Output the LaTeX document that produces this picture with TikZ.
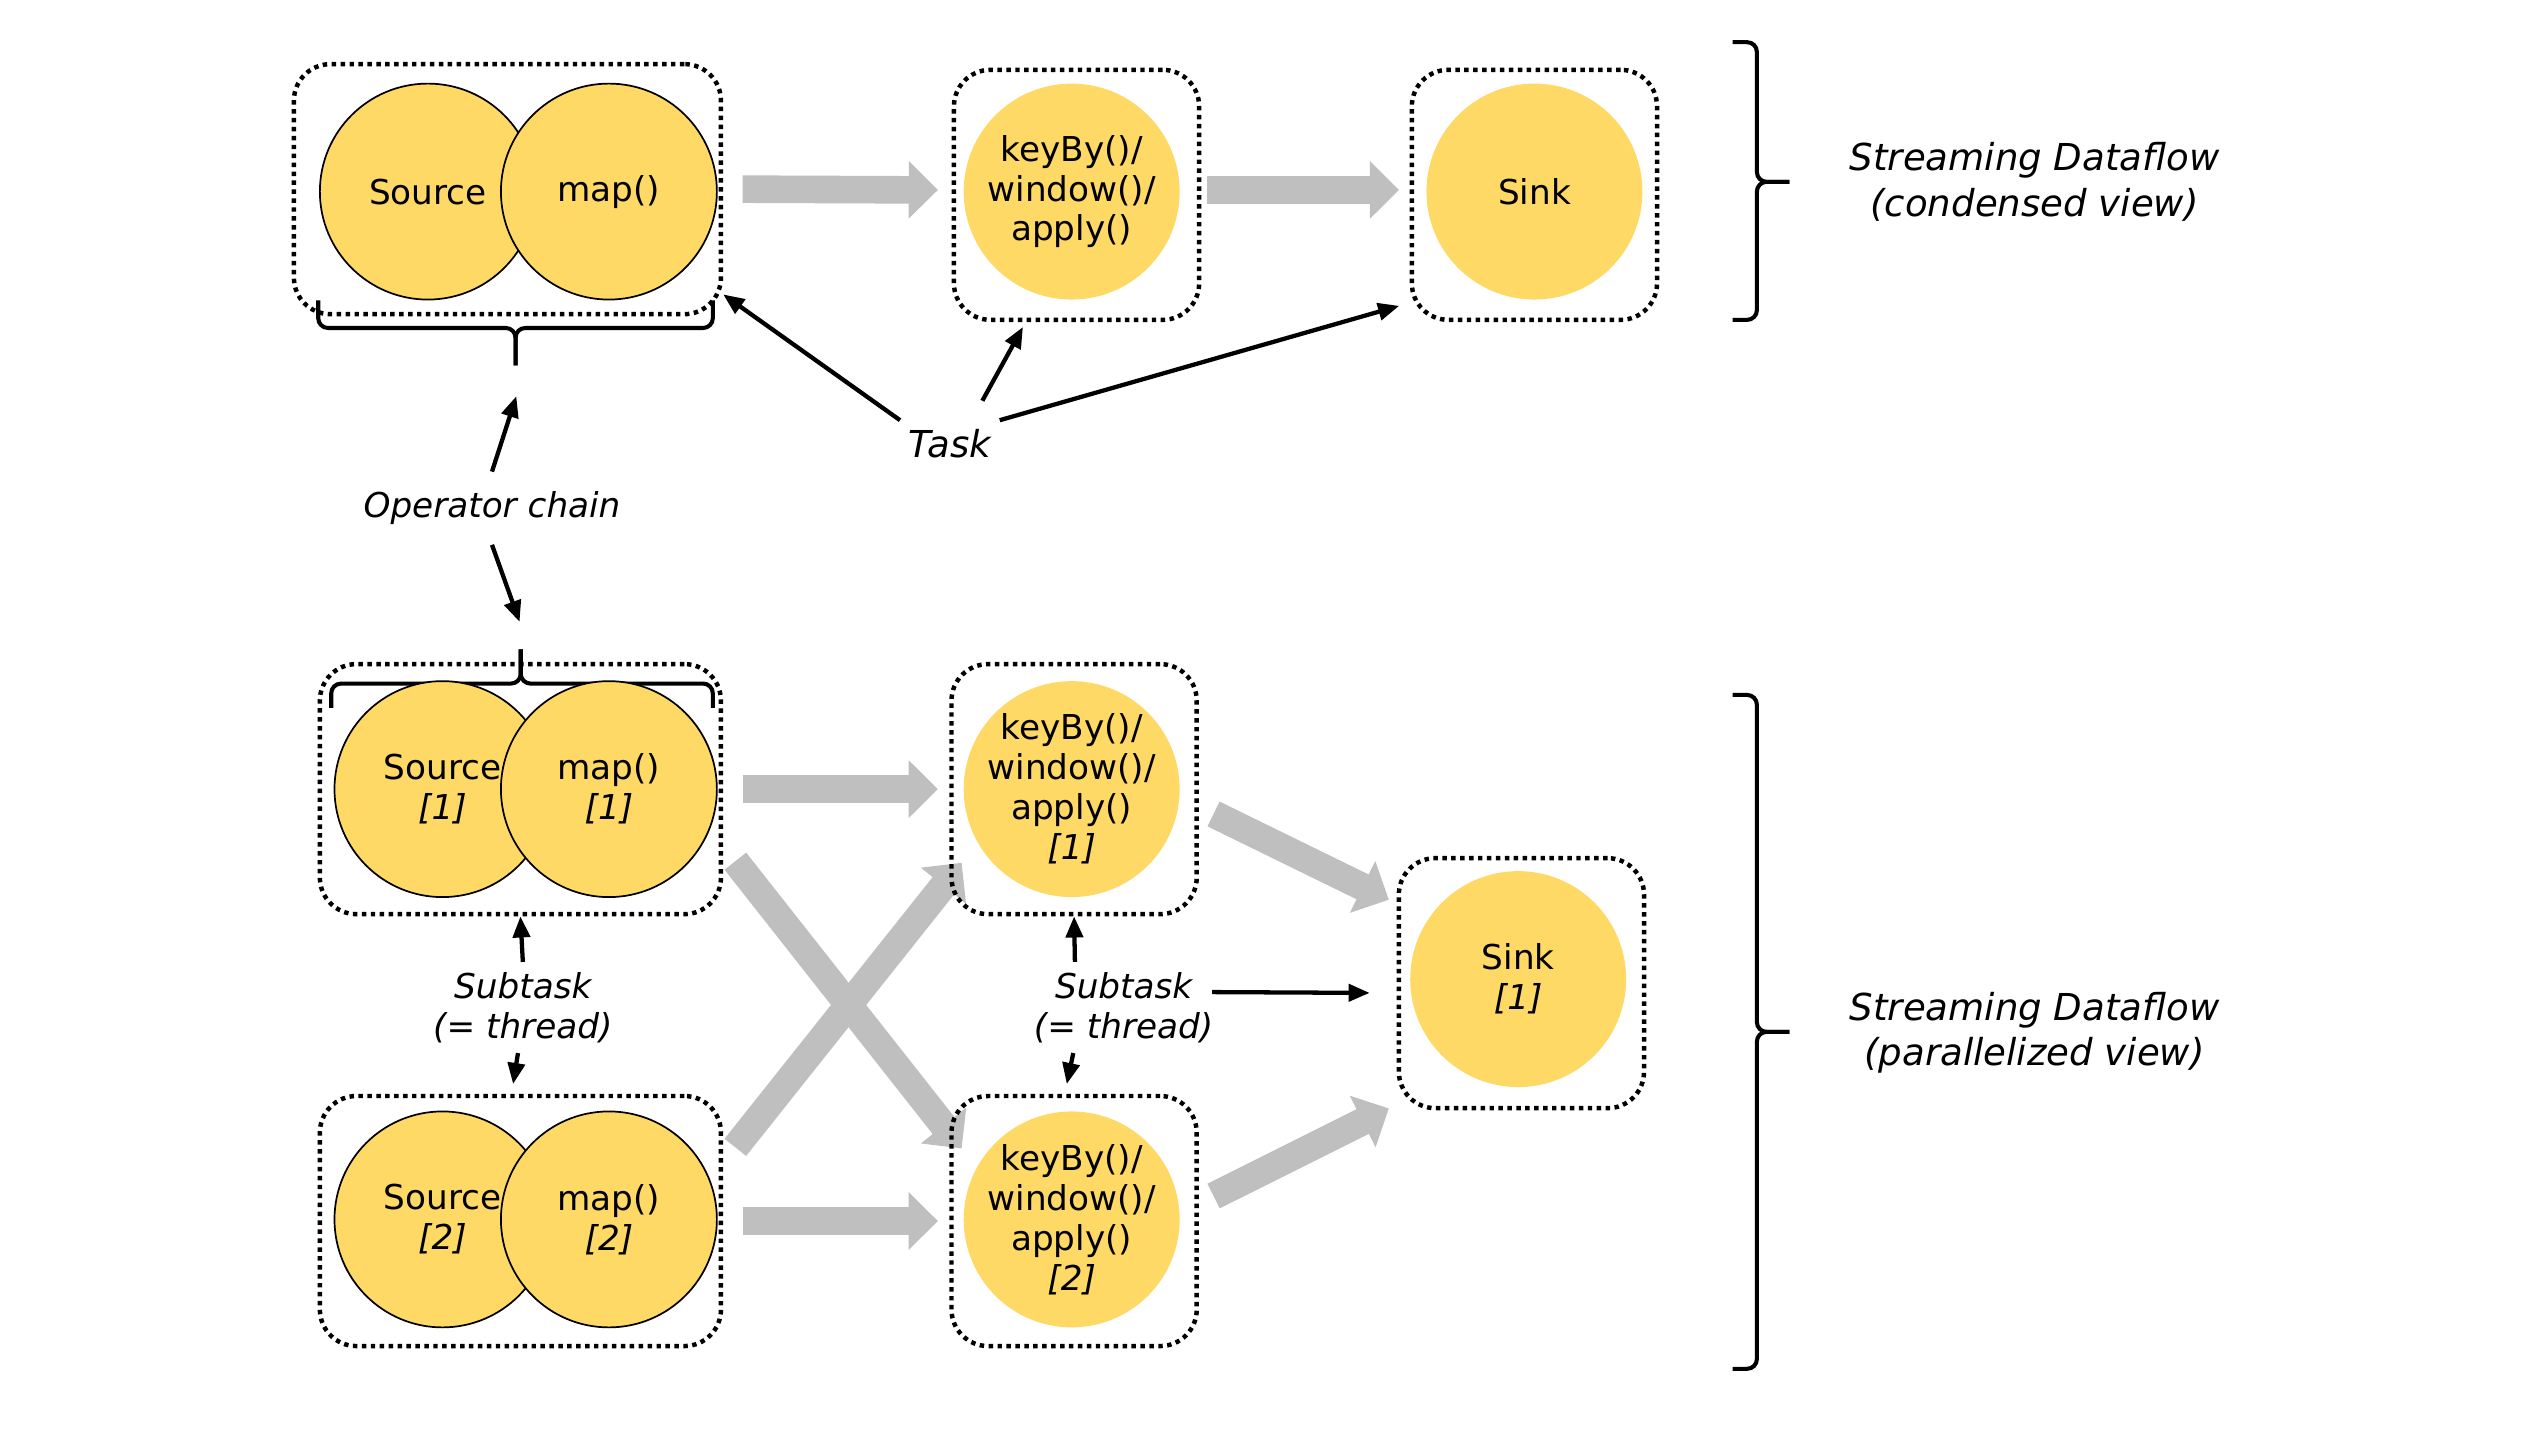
\documentclass[tikz,border=0pt]{standalone}
\usepackage{fontspec}
\setmainfont{DejaVu Sans}
\usetikzlibrary{arrows.meta,backgrounds}
\definecolor{opyellow}{HTML}{FFD966}
\definecolor{flowgray}{HTML}{BFBFBF}

\begin{document}
\begin{tikzpicture}[x=2mm,y=2mm,
	taskbox/.style={draw, rectangle, rounded corners=4.5mm, line width=0.55mm, dash pattern=on 0.55mm off 0.55mm, minimum width=30.2mm, minimum height=30.8mm},
	opnode/.style={circle, fill=opyellow, minimum size=26.6mm, inner sep=0pt, align=center, font=\fontsize{12}{14}\selectfont},
	tallop/.style={opnode, inner sep=-1.5mm},
	chained/.style={opnode, draw, line width=0.6pt},
	flow/.style={flowgray, line width=3.4mm, -{Triangle[length=3.6mm,width=6.9mm]}},
	pointer/.style={line width=1.5pt, -{Triangle[length=2.6mm,width=2.1mm]}},
	note/.style={font=\fontsize{12}{14}\selectfont\itshape, align=center, inner sep=1.2mm},
	bignote/.style={note, font=\fontsize{13}{16}\selectfont\itshape},
	bracket/.style={line width=0.5mm, rounded corners=1.2mm}]

	\useasboundingbox (0,0) rectangle (156.8,88.2);

	\node[taskbox, minimum width=52.6mm] (boxA) at (31.25,76.55) {};
	\node[taskbox] (boxB) at (66.3,76.2) {};
	\node[taskbox] (boxC) at (94.5,76.2) {};

	\node[chained] (src) at (26.35,76.4) {Source};
	\node[chained] (map) at (37.5,76.4) {map()};
	\node[opnode] (win) at (66.0,76.4) {keyBy()/\\window()/\\apply()};
	\node[opnode] (sink) at (94.5,76.4) {Sink};

	\begin{scope}[on background layer]
		\draw[flow] ([xshift=2.4mm]boxA.east) -- ([shift={(-0.85,0.3)}]boxB.west);
		\draw[flow] ([shift={(0.35,0.3)}]boxB.east) -- ([shift={(-0.65,0.3)}]boxC.west);
	\end{scope}

	\draw[bracket] (106.7,85.6) -| (108.2,77.0) -- (110.2,77.0);
	\draw[bracket] (106.7,68.5) -| (108.2,77.0) -- (110.2,77.0);
	\node[bignote] (condensed) at (125.3,77.0) {Streaming Dataflow\\(condensed view)};

	\node[bignote, inner sep=1mm] (task) at (58.5,60.9) {Task};
	\draw[pointer] (task.north west) -- (boxA.-26);
	\draw[pointer] ([shift={(2,1.2)}]task.north) -- ([shift={(-3.3,-0.3)}]boxB.south);
	\draw[pointer] (task.north east) -- ([shift={(-0.64,1)}]boxC.south west);

	\draw[bracket] (19.6,69.7) |- (31.75,68.0) -- (31.75,65.7);
	\draw[bracket] (43.9,69.7) |- (31.75,68.0) -- (31.75,65.7);
	\draw[bracket] (20.4,44.6) |- (32.07,46.1) -- (32.07,48.2);
	\draw[bracket] (43.9,44.6) |- (32.07,46.1) -- (32.07,48.2);
	\coordinate (chainA) at (31.8,63.8);
	\coordinate (chainD) at (32.0,49.9);
	\node[note, inner sep=2.4mm] (opchain) at (30.3,56.9) {Operator chain};
	\draw[pointer] (opchain.north) -- (chainA);
	\draw[pointer] (opchain.south) -- (chainD);

	\node[taskbox, minimum width=49.4mm] (boxD) at (32.05,39.6) {};
	\node[taskbox] (boxE) at (66.15,39.6) {};
	\node[taskbox, minimum width=49.4mm] (boxF) at (32.05,13.0) {};
	\node[taskbox] (boxG) at (66.15,13.0) {};
	\node[taskbox] (boxH) at (93.7,27.65) {};

	\node[chained] (src1) at (27.25,39.6) {Source\\\textit{[1]}};
	\node[chained] (map1) at (37.5,39.6) {map()\\\textit{[1]}};
	\node[tallop] (win1) at (66.0,39.6) {keyBy()/\\window()/\\apply()\\\textit{[1]}};
	\node[chained] (src2) at (27.25,13.1) {Source\\\textit{[2]}};
	\node[chained] (map2) at (37.5,13.1) {map()\\\textit{[2]}};
	\node[tallop] (win2) at (66.0,13.1) {keyBy()/\\window()/\\apply()\\\textit{[2]}};
	\node[opnode] (sink1) at (93.5,27.9) {Sink\\\textit{[1]}};

	\begin{scope}[on background layer]
		\draw[flow] ([xshift=2.4mm]boxD.east) -- ([xshift=-1.4mm]boxE.west);
		\draw[flow] ([xshift=2.4mm]boxF.east) -- ([xshift=-1.4mm]boxG.west);
		\draw[flow] ([shift={(0.75,3.4)}]boxD.south east) -- ([shift={(0.76,-3.37)}]boxG.north west);
		\draw[flow] ([shift={(0.75,-3.3)}]boxF.north east) -- ([shift={(0.76,3.3)}]boxE.south west);
		\draw[flow] ([shift={(0.9,-1.53)}]boxE.east) -- ([shift={(-0.48,-2.7)}]boxH.north west);
		\draw[flow] ([shift={(0.9,1.54)}]boxG.east) -- ([shift={(-0.48,0.12)}]boxH.south west);
	\end{scope}

	\node[note] (subL) at (32.2,26.15) {Subtask\\(= thread)};
	\node[note] (subR) at (69.2,26.15) {Subtask\\(= thread)};
	\draw[pointer] (subL.north) -- (boxD.south);
	\draw[pointer] ([xshift=-0.6mm]subL.south) -- ([shift={(-0.45,0.6)}]boxF.north);
	\draw[pointer] ([xshift=-6mm]subR.north) -- (boxE.south);
	\draw[pointer] ([xshift=-6.2mm]subR.south) -- ([shift={(-0.45,0.6)}]boxG.north);
	\draw[pointer] ([shift={(-0.7,0.95)}]subR.east) -- ([shift={(-1.66,-0.6)}]boxH.west);

	\draw[bracket] (106.7,45.4) -| (108.2,24.65) -- (110.2,24.65);
	\draw[bracket] (106.7,3.9) -| (108.2,24.65) -- (110.2,24.65);
	\node[bignote] (parallel) at (125.3,24.6) {Streaming Dataflow\\(parallelized view)};

\end{tikzpicture}
\end{document}
